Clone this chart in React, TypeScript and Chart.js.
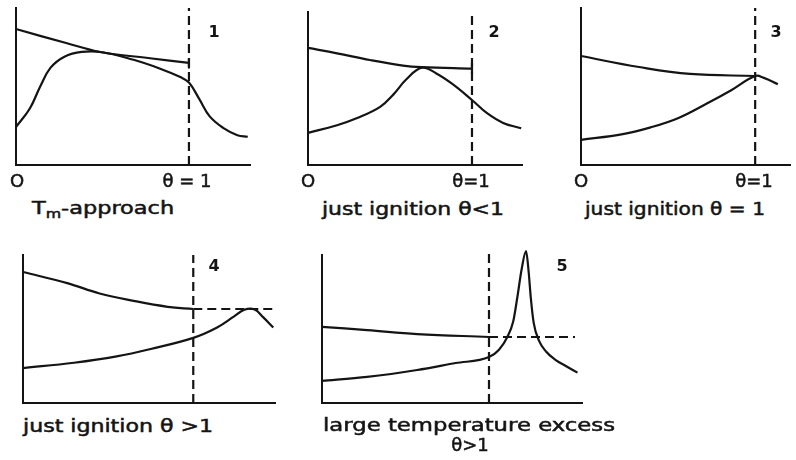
import React, { useEffect, useRef } from "react";
import { Chart, registerables } from "chart.js";
Chart.register(...registerables);

type Pt = [number, number];

// x in units of theta (0 at origin, 1 at the dashed line); y relative to axis height
const p1Upper: Pt[] = [[0, 0.866], [0.29, 0.777], [0.486, 0.72], [0.775, 0.68], [1, 0.65]];
const p1Tick: Pt[] = [[1, 0.675], [1, 0.62]];
const p1Lower: Pt[] = [[0, 0.242], [0.08, 0.36], [0.14, 0.5], [0.2, 0.62], [0.28, 0.69], [0.38, 0.72], [0.5, 0.718], [0.68, 0.67], [0.83, 0.615], [0.95, 0.56], [1.0, 0.525], [1.06, 0.42], [1.12, 0.31], [1.2, 0.235], [1.28, 0.19], [1.34, 0.18]];

const p2Upper: Pt[] = [[0, 0.765], [0.177, 0.73], [0.378, 0.686], [0.58, 0.65], [0.695, 0.64], [1, 0.63]];
const p2Tick: Pt[] = [[1, 0.665], [1, 0.6]];
const p2Lower: Pt[] = [[0, 0.21], [0.177, 0.26], [0.3, 0.307], [0.44, 0.38], [0.52, 0.46], [0.6, 0.56], [0.695, 0.636], [0.78, 0.6], [0.88, 0.53], [1, 0.425], [1.09, 0.34], [1.19, 0.275], [1.3, 0.24]];

const p3Upper: Pt[] = [[0, 0.694], [0.333, 0.624], [0.626, 0.58], [1, 0.567]];
const p3Lower: Pt[] = [[0, 0.16], [0.24, 0.197], [0.4, 0.24], [0.56, 0.3], [0.72, 0.39], [0.86, 0.475], [1, 0.567], [1.05, 0.555], [1.13, 0.515]];

const p4Upper: Pt[] = [[0, 0.885], [0.26, 0.81], [0.45, 0.74], [0.65, 0.69], [0.85, 0.65], [1, 0.635]];
const p4Level: Pt[] = [[1, 0.635], [1.48, 0.635]];
const p4Lower: Pt[] = [[0, 0.236], [0.3, 0.272], [0.55, 0.315], [0.75, 0.365], [1, 0.44], [1.14, 0.51], [1.24, 0.585], [1.3, 0.63], [1.36, 0.632], [1.41, 0.58], [1.47, 0.51]];

const p5Upper: Pt[] = [[0, 0.514], [0.27, 0.493], [0.57, 0.466], [1, 0.446]];
const p5Level: Pt[] = [[1, 0.446], [1.515, 0.446]];
const p5Lower: Pt[] = [[0, 0.149], [0.27, 0.176], [0.57, 0.223], [0.8, 0.27], [1, 0.31], [1.06, 0.36], [1.11, 0.446], [1.145, 0.55], [1.17, 0.716], [1.195, 0.9], [1.222, 1.027], [1.238, 0.88], [1.25, 0.716], [1.268, 0.54], [1.3, 0.42], [1.34, 0.35], [1.4, 0.29], [1.46, 0.25], [1.53, 0.205]];

const thetaLine: Pt[] = [[1, 0], [1, 1]];
const thetaLineTall: Pt[] = [[1, 0], [1, 1.02]];

const INK = "#141414";
const PAD = 12;

type Series = { pts: Pt[]; dashed?: boolean; mode?: "smooth" | "spike" | "straight" };
type PanelCfg = { left: number; top: number; w: number; h: number; xMax: number; series: Series[] };

const panels: PanelCfg[] = [
  { left: 16, top: 8, w: 234, h: 157, xMax: 1.353, series: [{ pts: p1Upper, mode: "smooth" }, { pts: p1Tick }, { pts: p1Lower, mode: "smooth" }, { pts: thetaLine, dashed: true }] },
  { left: 308, top: 12, w: 214, h: 153, xMax: 1.305, series: [{ pts: p2Upper, mode: "smooth" }, { pts: p2Tick }, { pts: p2Lower, mode: "smooth" }, { pts: thetaLine, dashed: true }] },
  { left: 581, top: 8, w: 209, h: 157, xMax: 1.2, series: [{ pts: p3Upper, mode: "smooth" }, { pts: p3Lower, mode: "smooth" }, { pts: thetaLine, dashed: true }] },
  { left: 23, top: 255, w: 252, h: 148, xMax: 1.48, series: [{ pts: p4Upper, mode: "smooth" }, { pts: p4Level, dashed: true }, { pts: p4Lower, mode: "smooth" }, { pts: thetaLine, dashed: true }] },
  { left: 322, top: 255, w: 260, h: 148, xMax: 1.557, series: [{ pts: p5Upper, mode: "smooth" }, { pts: p5Level, dashed: true }, { pts: p5Lower, mode: "spike" }, { pts: thetaLineTall, dashed: true }] },
];

function Panel({ cfg }: { cfg: PanelCfg }) {
  const ref = useRef<HTMLCanvasElement | null>(null);
  useEffect(() => {
    if (!ref.current) return;
    const axis = {
      display: true,
      grid: { display: false, drawTicks: false },
      ticks: { display: false },
      border: { display: true, color: INK, width: 2 },
    };
    const chart = new Chart(ref.current, {
      type: "line",
      data: {
        datasets: cfg.series.map((s) => ({
          data: s.pts.map(([x, y]) => ({ x, y })),
          borderColor: INK,
          borderWidth: 2.2,
          pointRadius: 0,
          fill: false,
          clip: false as any,
          borderDash: s.dashed ? [9, 5] : [],
          cubicInterpolationMode: s.mode === "spike" ? "monotone" : "default",
          tension: s.mode === "smooth" ? 0.4 : 0,
          borderCapStyle: "butt",
          borderJoinStyle: "round",
        })),
      },
      options: {
        animation: false,
        responsive: false,
        events: [],
        layout: { padding: PAD },
        plugins: { legend: { display: false }, tooltip: { enabled: false } },
        scales: {
          x: { type: "linear", min: 0, max: cfg.xMax, ...axis } as any,
          y: { type: "linear", min: 0, max: 1, ...axis } as any,
        },
      },
    });
    return () => chart.destroy();
  }, [cfg]);
  return (
    <canvas
      ref={ref}
      width={cfg.w + 2 * PAD}
      height={cfg.h + 2 * PAD}
      style={{ position: "absolute", left: cfg.left - PAD, top: cfg.top - PAD, width: cfg.w + 2 * PAD, height: cfg.h + 2 * PAD }}
    />
  );
}

const FAMILY = "'DejaVu Sans', sans-serif";
const SIZE = 17;

let measureCtx: CanvasRenderingContext2D | null = null;
function textWidth(s: string, size: number, weight: number) {
  if (!measureCtx) measureCtx = document.createElement("canvas").getContext("2d");
  if (!measureCtx) return s.length * size * 0.55;
  measureCtx.font = `${weight} ${size}px ${FAMILY}`;
  return measureCtx.measureText(s).width;
}

function Txt({ x, y, children, center = true, size = SIZE, bold = false, fit, natural }: any) {
  let scale = 1;
  if (fit) {
    const w = natural !== undefined ? natural : textWidth(String(children), size, bold ? 700 : 400);
    scale = fit / w;
  }
  return (
    <div
      style={{
        position: "absolute",
        left: x,
        top: y,
        transformOrigin: "0 50%",
        transform: center ? "translate(-50%, -50%)" : `translate(0, -50%) scaleX(${scale})`,
        fontFamily: FAMILY,
        fontSize: size,
        fontWeight: bold ? 700 : 400,
        color: INK,
        whiteSpace: "nowrap",
        lineHeight: 1,
        WebkitTextStroke: bold ? "0" : "0.5px " + INK,
      }}
    >
      {children}
    </div>
  );
}

export default function App() {
  useEffect(() => {
    document.body.style.margin = "0";
  }, []);
  const tmNatural = textWidth("T-approach", SIZE, 400) + textWidth("m", 12, 400);
  return (
    <div style={{ position: "fixed", left: 0, top: 0, width: 796, height: 460, background: "#fff", overflow: "hidden" }}>
      {panels.map((p, i) => (
        <Panel key={i} cfg={p} />
      ))}
      <Txt x={214} y={32} bold size={16}>1</Txt>
      <Txt x={494} y={32} bold size={16}>2</Txt>
      <Txt x={776} y={32} bold size={16}>3</Txt>
      <Txt x={214} y={266} bold size={16}>4</Txt>
      <Txt x={562} y={266} bold size={16}>5</Txt>

      <Txt x={17} y={181} size={18}>O</Txt>
      <Txt x={187} y={181} size={18}>θ = 1</Txt>
      <Txt x={308} y={181} size={18}>O</Txt>
      <Txt x={471} y={181} size={18}>θ=1</Txt>
      <Txt x={581} y={181} size={18}>O</Txt>
      <Txt x={754} y={181} size={18}>θ=1</Txt>

      <Txt x={32} y={210} center={false} fit={140} natural={tmNatural}>
        T<sub style={{ fontSize: 12 }}>m</sub>-approach
      </Txt>
      <Txt x={322} y={209} center={false} fit={182}>just ignition θ&lt;1</Txt>
      <Txt x={585} y={209} center={false} fit={180}>just ignition θ = 1</Txt>
      <Txt x={23} y={426} center={false} fit={190}>just ignition θ &gt;1</Txt>
      <Txt x={323} y={425} center={false} fit={292}>large temperature excess</Txt>
      <Txt x={470} y={445} size={18}>θ&gt;1</Txt>
    </div>
  );
}
